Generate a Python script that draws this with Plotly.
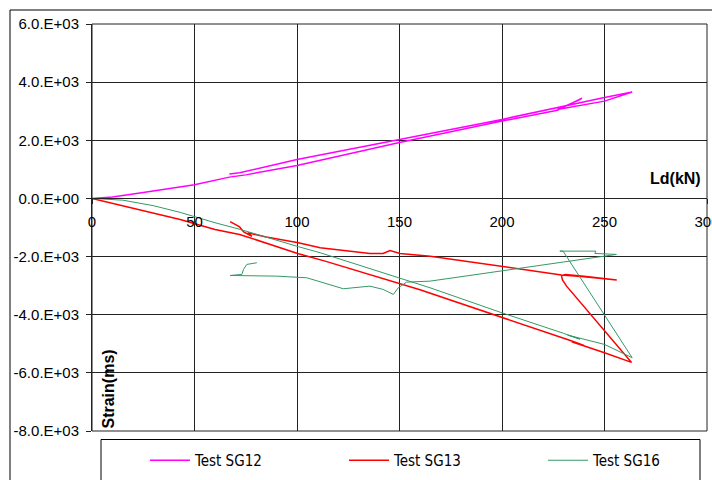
import plotly.graph_objects as go

# Load (kN) vs strain readings for three strain gauges
sg12_x = [0, 10, 25, 50, 67, 75, 100, 125, 150, 175, 200, 227, 239, 229, 238, 227, 250, 263.5,
          250, 200, 150, 100, 72, 67]
sg12_y = [0, 50, 200, 470, 733, 810, 1135, 1530, 1926, 2290, 2660, 3030, 3450, 3100, 3400, 3060, 3347, 3660,
          3474, 2718, 2030, 1341, 880, 840]

sg13_x = [0, 43, 60, 72, 100.7, 113.7, 160, 200, 233, 240, 234, 250, 263.2,
          231.5, 229.5, 229, 231, 240, 248, 256, 240, 229, 165, 150.2, 145.4, 142, 135.6, 111.3, 100.7,
          85, 80, 76, 78, 74, 72, 67.4]
sg13_y = [0, -722, -1066, -1238, -1900, -2157, -3140, -4080, -4880, -5060, -4930, -5308, -5640,
          -3017, -2800, -2650, -2620, -2680, -2740, -2810, -2690, -2630, -1985, -1892, -1789, -1892, -1892, -1696, -1524,
          -1330, -1260, -1180, -1300, -1150, -980, -800]

sg16_x = [0, 15, 30, 43, 60, 72.3, 100.7, 111.3, 164.9, 199, 230, 238, 232, 250, 263.5,
          229.8, 228.2, 245.8, 245.3, 255.8, 164.9, 153.5, 149.4, 147, 142, 135.6, 122.6, 111.3, 104.8,
          90.1, 73.9, 67.4, 73.1, 73.9, 75.5, 80.4]
sg16_y = [0, -60, -250, -480, -836, -1066, -1660, -1868, -3073, -3911, -4640, -4840, -4700, -5022, -5480,
          -1813, -1813, -1813, -1892, -1926, -2845, -2879, -3073, -3302, -3130, -3017, -3107, -2879, -2730,
          -2673, -2673, -2650, -2614, -2442, -2270, -2213]

x_ticks = [0, 50, 100, 150, 200, 250, 300]
y_ticks = [-8000, -6000, -4000, -2000, 0, 2000, 4000, 6000]
y_tick_text = ["-8.0.E+03", "-6.0.E+03", "-4.0.E+03", "-2.0.E+03",
               "0.0.E+00", "2.0.E+03", "4.0.E+03", "6.0.E+03"]

FONT = "Liberation Sans, Arial, sans-serif"
NARROW = "Liberation Sans Narrow, DejaVu Sans Condensed, Liberation Sans, sans-serif"

# plot-area geometry in pixels (for paper-coordinate helpers)
W, H = 712, 480
ML, MR, MT, MB = 92, 5, 24, 49
PW, PH = W - ML - MR, H - MT - MB


def px_x(px):
    return (px - ML) / PW


def px_y(py):
    return (H - MB - py) / PH


fig = go.Figure()
fig.add_trace(go.Scatter(x=sg12_x, y=sg12_y, mode="lines", name="Test SG12",
                         line=dict(color="#FF00FF", width=1.5)))
fig.add_trace(go.Scatter(x=sg13_x, y=sg13_y, mode="lines", name="Test SG13",
                         line=dict(color="#FF0000", width=1.5)))
fig.add_trace(go.Scatter(x=sg16_x, y=sg16_y, mode="lines", name="Test SG16",
                         line=dict(color="#339966", width=1)))

grid = "#222222"
fig.update_layout(
    width=W, height=H,
    margin=dict(l=ML, r=MR, t=MT, b=MB, pad=0, autoexpand=False),
    paper_bgcolor="white", plot_bgcolor="white",
    font=dict(family=FONT, size=15, color="black"),
    xaxis=dict(range=[0, 300], tickvals=x_ticks, ticks="outside", ticklen=5, tickcolor=grid,
               showgrid=True, gridcolor=grid, gridwidth=1, showline=True, linecolor=grid,
               linewidth=1, zeroline=False, anchor="free", position=8 / 14,
               ticklabelstandoff=5, ticklabeloverflow="allow",
               tickfont=dict(family=FONT, size=15), automargin=False),
    yaxis=dict(range=[-8000, 6000], tickvals=y_ticks, ticktext=y_tick_text, ticks="outside",
               ticklen=5, tickcolor=grid, showgrid=True, gridcolor=grid, gridwidth=1,
               showline=True, linecolor=grid, linewidth=1, zeroline=True, zerolinecolor=grid,
               zerolinewidth=1, ticklabelstandoff=4, tickfont=dict(family=FONT, size=15),
               automargin=False),
    showlegend=True,
    legend=dict(orientation="h", x=px_x(145), xanchor="left", y=px_y(444), yanchor="top",
                bgcolor="rgba(0,0,0,0)", borderwidth=0, entrywidth=144, entrywidthmode="pixels",
                font=dict(family=NARROW, size=15), itemwidth=40, traceorder="normal"),
    shapes=[
        # outer chart border
        dict(type="rect", xref="paper", yref="paper", x0=px_x(10), x1=px_x(730),
             y0=px_y(500), y1=px_y(10), line=dict(color="black", width=1), layer="below"),
        # plot area frame
        dict(type="rect", xref="paper", yref="paper", x0=0, x1=1, y0=0, y1=1,
             line=dict(color=grid, width=1), layer="below"),
        # legend box
        dict(type="rect", xref="paper", yref="paper", x0=px_x(101), x1=px_x(700),
             y0=px_y(500), y1=px_y(439.5), line=dict(color="black", width=1), layer="below"),
    ],
    annotations=[
        dict(text="<b>Ld(kN)</b>", xref="paper", yref="paper", x=px_x(703), y=px_y(178),
             xanchor="right", yanchor="middle", showarrow=False,
             font=dict(family=FONT, size=16)),
        dict(text="<b>Strain(ms)</b>", xref="paper", yref="paper", x=px_x(107.5), y=px_y(389),
             xanchor="center", yanchor="middle", textangle=-90, showarrow=False,
             font=dict(family=FONT, size=16)),
    ],
)

fig.write_html("out.html")
